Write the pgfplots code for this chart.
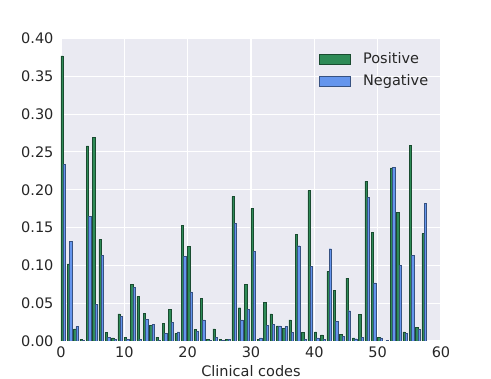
\documentclass[border=0pt]{standalone}
\usepackage{fontspec}
\setmainfont{DejaVu Sans}
\usepackage{pgfplots}
\pgfplotsset{compat=1.18}
\definecolor{bg}{HTML}{EAEAF2}
\definecolor{pos}{HTML}{2E8B57}
\definecolor{neg}{HTML}{6495ED}
\newcommand{\lblfont}{\fontsize{14.5}{17}\selectfont}
\begin{document}
\lblfont
\begin{tikzpicture}
\useasboundingbox (-61pt,-38pt) rectangle (430pt,341pt);
\begin{axis}[
  scale only axis,
  width=380pt, height=302.5pt,
  xmin=0, xmax=60, ymin=0, ymax=0.4,
  xtick={0,10,20,30,40,50,60},
  ytick={0,0.05,0.10,0.15,0.20,0.25,0.30,0.35,0.40},
  axis background/.style={fill=bg},
  axis line style={draw=none},
  major tick length=0pt,
  grid=major,
  grid style={white, line width=1.1pt},
  /pgf/number format/assume math mode=true,
  yticklabel style={/pgf/number format/fixed, /pgf/number format/fixed zerofill,
    /pgf/number format/precision=2, xshift=-2.5pt},
  xticklabel style={yshift=-1pt},
  ticklabel style={font=\lblfont, text=black!85},
  xlabel={Clinical codes},
  xlabel style={font=\lblfont, text=black!85, yshift=2pt},
  legend style={at={(0.98,0.968)}, anchor=north east, draw=none, fill=none,
    font=\lblfont, text=black!85, row sep=5pt},
  legend cell align=left,
  legend image code/.code={\draw[#1] (0pt,-5.2pt) rectangle (31pt,5.2pt);\path (42pt,0pt);},
]
\addplot[ybar, bar width=0.35, bar shift=0.175, fill=pos, draw=pos!55!black, line width=0.4pt] coordinates {
(0,0.377) (1,0.102) (2,0.016) (3,0.002) (4,0.258) (5,0.269) (6,0.134) (7,0.011)
(8,0.004) (9,0.036) (10,0.005) (11,0.075) (12,0.059) (13,0.037) (14,0.021) (15,0.005)
(16,0.023) (17,0.042) (18,0.010) (19,0.153) (20,0.125) (21,0.015) (22,0.056) (23,0.002)
(24,0.016) (25,0.002) (26,0.002) (27,0.191) (28,0.044) (29,0.075) (30,0.175) (31,0.002)
(32,0.051) (33,0.036) (34,0.020) (35,0.017) (36,0.028) (37,0.141) (38,0.011) (39,0.199)
(40,0.012) (41,0.008) (42,0.092) (43,0.067) (44,0.009) (45,0.083) (46,0.004) (47,0.035)
(48,0.211) (49,0.144) (50,0.005) (51,0.000) (52,0.229) (53,0.170) (54,0.012) (55,0.259)
(56,0.018) (57,0.142)
};
\addlegendentry{Positive}
\addplot[ybar, bar width=0.35, bar shift=0.525, fill=neg, draw=neg!55!black, line width=0.4pt] coordinates {
(0,0.234) (1,0.132) (2,0.019) (3,0.001) (4,0.165) (5,0.048) (6,0.113) (7,0.005)
(8,0.002) (9,0.033) (10,0.002) (11,0.071) (12,0.002) (13,0.029) (14,0.022) (15,0.001)
(16,0.010) (17,0.025) (18,0.012) (19,0.112) (20,0.065) (21,0.013) (22,0.028) (23,0.001)
(24,0.005) (25,0.001) (26,0.002) (27,0.156) (28,0.028) (29,0.042) (30,0.119) (31,0.004)
(32,0.021) (33,0.022) (34,0.020) (35,0.019) (36,0.011) (37,0.126) (38,0.002) (39,0.099)
(40,0.004) (41,0.002) (42,0.122) (43,0.026) (44,0.006) (45,0.040) (46,0.003) (47,0.005)
(48,0.190) (49,0.077) (50,0.004) (51,0.001) (52,0.230) (53,0.100) (54,0.010) (55,0.113)
(56,0.015) (57,0.182)
};
\addlegendentry{Negative}
\end{axis}
\end{tikzpicture}
\end{document}
